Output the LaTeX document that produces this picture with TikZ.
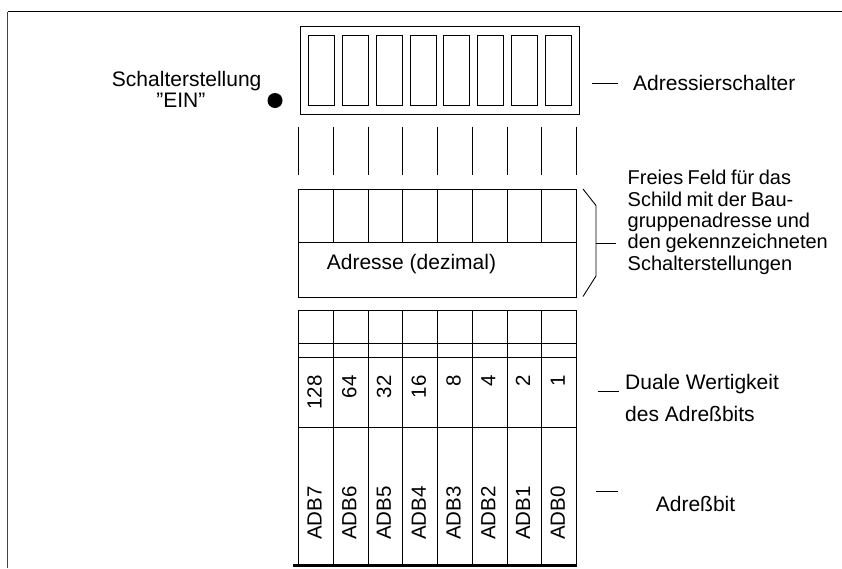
\documentclass[tikz,border=0pt]{standalone}
\usepackage{fontspec}
\setmainfont{Liberation Sans}
\newfontfamily\tightsp[WordSpace=0.8]{Liberation Sans}
\begin{document}
\begin{tikzpicture}[x=1pt,y=-1pt]
  \tikzstyle{ln}=[line width=0.9pt]
  \tikzstyle{lbl}=[inner sep=0pt,font=\fontsize{21}{25}\selectfont]
  \tikzstyle{small}=[inner sep=0pt,font=\tightsp\fontsize{20}{21.3}\selectfont]
  \tikzstyle{rot}=[inner sep=0pt,rotate=90,font=\fontsize{20.5}{24}\selectfont]
  \useasboundingbox (0,0) rectangle (842,568);
  % Rahmen
  \draw[line width=1.5pt,black!75] (7.7,568) -- (7.7,11.7);
  \draw[line width=1.2pt] (7.7,11.7) -- (842,11.7);
  % Adressierschalter (Gehaeuse + 8 Schalter)
  \draw[ln] (300.5,26) rectangle (579,114.5);
  \foreach \i in {0,...,7}
    \draw[ln] (308.3+33.9*\i,35) rectangle ++(26,70);
  % Spaltenlinien
  \foreach \i in {0,...,8} {
    \draw[ln] (298.5+34.75*\i,126.5) -- (298.5+34.75*\i,174.5);   % Striche
    \draw[ln] (298.5+34.75*\i,310) -- (298.5+34.75*\i,564);       % Tabelle
  }
  % Freies Feld (Schild)
  \draw[ln] (298.5,189) rectangle (576.5,297);
  \draw[ln] (298.5,242.3) -- (576.5,242.3);
  \foreach \i in {1,...,7}
    \draw[ln] (298.5+34.75*\i,189) -- (298.5+34.75*\i,242.3);
  \node[lbl] (adr) at (411.5,264) {Adresse (dezimal)};
  % Tabelle: Querlinien
  \foreach \y in {310,343.3,357.3,427.7}
    \draw[ln] (298.5,\y) -- (576.5,\y);
  \draw[line width=2.6pt] (293.3,565.7) -- (576.7,565.7);
  % Wertigkeiten und Adressbits
  \foreach \v [count=\i from 0] in {128,64,32,16,8,4,2,1}
    \node[rot,anchor=east] (w\i) at (314.5+34.75*\i,375) {\v};
  \foreach \b [count=\i from 0] in {7,...,0}
    \node[rot,anchor=west] (adb\b) at (314.5+34.75*\i,540) {ADB\b};
  % Schalterstellung EIN
  \fill (275,100.5) circle (7.5);
  \node[lbl,anchor=base] (sst) at (186.7,86.7) {Schalterstellung};
  \node[lbl,anchor=base] (ein) at (180.8,107) {”EIN”};
  % Beschriftung rechts
  \draw[ln] (592,83.3) -- (618.3,83.3);
  \node[lbl,anchor=base west] (schalter) at (633,90.8) {Adressierschalter};
  \draw[ln] (583,189) -- (596,205.5) -- (596,276) -- (583,296.5);
  \draw[ln] (596,243) -- (615.5,243);
  \node[small,anchor=base west,align=left] (feld) at (627.5,270)
    {Freies Feld für das\\Schild mit der Bau-\\gruppenadresse und\\den gekennzeichneten\\Schalterstellungen};
  \draw[ln] (598.3,391.7) -- (619.3,391.7);
  \node[lbl,anchor=base west] (dual) at (625,389) {Duale Wertigkeit};
  \node[lbl,anchor=base west] (dual2) at (625,421) {des Adreßbits};
  \draw[ln] (596,491) -- (618.3,491);
  \node[lbl,anchor=base] (bit) at (695.5,511) {Adreßbit};
\end{tikzpicture}
\end{document}
